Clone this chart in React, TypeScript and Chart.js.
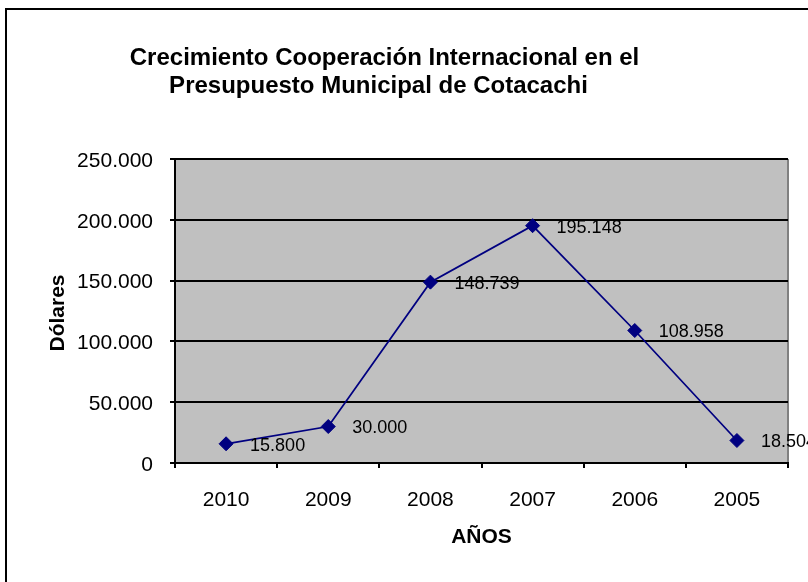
import React, { useEffect, useRef } from "react";
import { Chart, registerables } from "chart.js";

Chart.register(...registerables);

const TITLE_LINES = ["Crecimiento Cooperación Internacional en el", "Presupuesto Municipal de Cotacachi"];
const CATEGORIES = ["2010", "2009", "2008", "2007", "2006", "2005"];
const VALUES = [15800, 30000, 148739, 195148, 108958, 18504];
const Y_MIN = 0;
const Y_MAX = 250000;
const Y_STEP = 50000;
const X_TITLE = "AÑOS";
const Y_TITLE = "Dólares";

const FONT = "'Liberation Sans', Arial, Helvetica, sans-serif";

const fmt = (v: number) => Math.round(v).toString().replace(/\B(?=(\d{3})+(?!\d))/g, ".");

const decor = {
  id: "decor",
  beforeDraw(chart: any) {
    const { ctx, chartArea: a } = chart;
    ctx.save();
    ctx.fillStyle = "#ffffff";
    ctx.fillRect(0, 0, chart.width, chart.height);
    // outer frame
    ctx.strokeStyle = "#000000";
    ctx.lineWidth = 2;
    ctx.strokeRect(6, 9, 1000, 1000);
    // plot area
    ctx.fillStyle = "#C0C0C0";
    ctx.fillRect(a.left, a.top, a.right - a.left, a.bottom - a.top);
    ctx.strokeStyle = "#808080";
    ctx.lineWidth = 2;
    ctx.beginPath();
    ctx.moveTo(a.right, a.top);
    ctx.lineTo(a.right, a.bottom);
    ctx.stroke();
    // chart title
    ctx.fillStyle = "#000000";
    ctx.font = `bold 24px ${FONT}`;
    ctx.textAlign = "center";
    ctx.textBaseline = "alphabetic";
    ctx.fillText(TITLE_LINES[0], 384.5, 65);
    ctx.fillText(TITLE_LINES[1], 378.5, 92.5);
    // axis titles
    ctx.font = `bold 21px ${FONT}`;
    ctx.fillText(X_TITLE, (a.left + a.right) / 2, 543);
    ctx.translate(63.5, (a.top + a.bottom) / 2 + 2);
    ctx.rotate(-Math.PI / 2);
    ctx.fillText(Y_TITLE, 0, 0);
    ctx.restore();
  },
  afterDatasetsDraw(chart: any) {
    const { ctx } = chart;
    const meta = chart.getDatasetMeta(0);
    ctx.save();
    ctx.fillStyle = "#000000";
    ctx.font = `18px ${FONT}`;
    ctx.textAlign = "left";
    ctx.textBaseline = "middle";
    meta.data.forEach((pt: any, i: number) => {
      ctx.fillText(fmt(VALUES[i]), pt.x + 24, pt.y + 2);
    });
    ctx.restore();
  },
};

export default function App() {
  const ref = useRef<HTMLCanvasElement | null>(null);
  useEffect(() => {
    if (!ref.current) return;
    const chart = new Chart(ref.current, {
      type: "line",
      data: {
        labels: CATEGORIES,
        datasets: [
          {
            data: VALUES,
            borderColor: "#000080",
            backgroundColor: "#000080",
            borderWidth: 1.75,
            pointStyle: "rectRot",
            pointRadius: 7,
            pointBorderWidth: 1,
            pointBackgroundColor: "#000080",
            pointBorderColor: "#000080",
            tension: 0,
          },
        ],
      },
      options: {
        animation: false,
        responsive: false,
        devicePixelRatio: 1,
        layout: { padding: { left: 0, top: 159, right: 20, bottom: 0 } },
        plugins: {
          legend: { display: false },
          title: { display: false },
          tooltip: { enabled: false },
        },
        scales: {
          x: {
            type: "category",
            offset: true,
            grid: {
              display: true,
              drawOnChartArea: false,
              drawTicks: true,
              tickLength: 5,
              offset: true,
              color: "#000000",
              lineWidth: 2,
            },
            border: { display: true, color: "#000000", width: 2 },
            ticks: {
              color: "#000000",
              font: { family: FONT, size: 21 },
              padding: 20,
              maxRotation: 0,
              autoSkip: false,
            },
            afterFit: (s: any) => {
              s.height = 119;
            },
          },
          y: {
            min: Y_MIN,
            max: Y_MAX,
            grid: {
              display: true,
              drawTicks: true,
              tickLength: 5,
              color: "#000000",
              lineWidth: 2,
            },
            border: { display: true, color: "#000000", width: 2 },
            ticks: {
              stepSize: Y_STEP,
              color: "#000000",
              font: { family: FONT, size: 21 },
              padding: 17,
              labelOffset: 2,
              callback: (v: any) => fmt(Number(v)),
            },
            afterFit: (s: any) => {
              s.width = 175;
            },
          },
        },
      },
      plugins: [decor],
    });
    return () => chart.destroy();
  }, []);
  return (
    <div style={{ position: "fixed", left: 0, top: 0, width: 808, height: 582 }}>
      <canvas ref={ref} width={808} height={582} style={{ display: "block" }} />
    </div>
  );
}
